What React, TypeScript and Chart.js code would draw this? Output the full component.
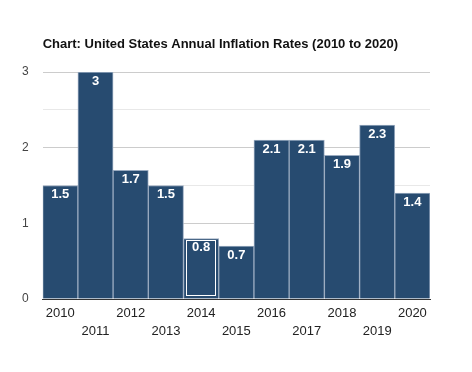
import { useEffect, useRef } from 'react';
import { Chart, registerables } from 'chart.js';

Chart.register(...registerables);

const chartTitle = 'Chart: United States Annual Inflation Rates (2010 to 2020)';
const years = ['2010', '2011', '2012', '2013', '2014', '2015', '2016', '2017', '2018', '2019', '2020'];
const inflation = [1.5, 3, 1.7, 1.5, 0.8, 0.7, 2.1, 2.1, 1.9, 2.3, 1.4];
const yTickLabels = [0, 1, 2, 3];
const highlightYear = '2014';

const FONT = '"Liberation Sans", Arial, Helvetica, sans-serif';

const valueLabels = {
  id: 'valueLabels',
  afterDatasetsDraw(chart: any) {
    const ctx = chart.ctx;
    const meta = chart.getDatasetMeta(0);
    ctx.save();
    meta.data.forEach((el: any, i: number) => {
      const { x, y, base, width } = el.getProps(['x', 'y', 'base', 'width'], true);
      if (years[i] === highlightYear) {
        ctx.strokeStyle = '#ffffff';
        ctx.lineWidth = 1;
        ctx.strokeRect(Math.round(x - width / 2 + 2.5) + 0.5, Math.round(y + 2) + 0.5, Math.round(width - 6), Math.round(base - y - 5));
      }
      ctx.fillStyle = '#ffffff';
      ctx.font = `bold 13px ${FONT}`;
      ctx.textAlign = 'center';
      ctx.textBaseline = 'middle';
      ctx.fillText(String(inflation[i]), x, y + 9);
    });
    ctx.restore();
  },
};

export default function App() {
  const ref = useRef<HTMLCanvasElement>(null);
  useEffect(() => {
    if (!ref.current) return;
    const chart = new Chart(ref.current, {
      type: 'bar',
      data: {
        labels: years,
        datasets: [
          {
            data: inflation,
            backgroundColor: '#274b70',
            borderColor: '#9aabc0',
            borderWidth: 1,
            categoryPercentage: 1,
            barPercentage: 1,
          },
        ],
      },
      plugins: [valueLabels],
      options: {
        animation: false,
        responsive: true,
        maintainAspectRatio: false,
        layout: { padding: { left: 0, right: 34, top: 0, bottom: 18 } },
        plugins: {
          legend: { display: false },
          tooltip: { enabled: false },
          title: {
            display: true,
            text: chartTitle,
            align: 'start',
            fullSize: false,
            color: '#111111',
            font: { family: FONT, size: 13, weight: 'bold' },
            padding: { top: 28.7, bottom: 19.7 },
          },
        },
        scales: {
          x: {
            grid: { display: false, drawTicks: false },
            border: { display: true, color: '#333333', width: 1 },
            ticks: {
              color: '#222222',
              font: { family: FONT, size: 13, lineHeight: 18 / 13 },
              padding: 5.5,
              maxRotation: 0,
              autoSkip: false,
              callback: (_v: any, i: number) => (i % 2 === 0 ? [years[i], ''] : ['', years[i]]),
            },
          },
          y: {
            min: 0,
            max: 3,
            border: { display: false },
            grid: {
              drawTicks: false,
              color: (c: any) => {
                const v = c.tick?.value;
                if (v === 0) return '#333333';
                return yTickLabels.includes(v) ? '#cccccc' : '#e8e8e8';
              },
            },
            ticks: {
              stepSize: 0.5,
              color: '#444444',
              padding: 14,
              font: { family: FONT, size: 12 },
              callback: (v: any) => (yTickLabels.includes(v) ? String(v) : ''),
            },
          },
        },
      },
    });
    return () => chart.destroy();
  }, []);
  return (
    <div style={{ width: 456, height: 356, position: 'relative' }}>
      <canvas ref={ref} />
    </div>
  );
}
